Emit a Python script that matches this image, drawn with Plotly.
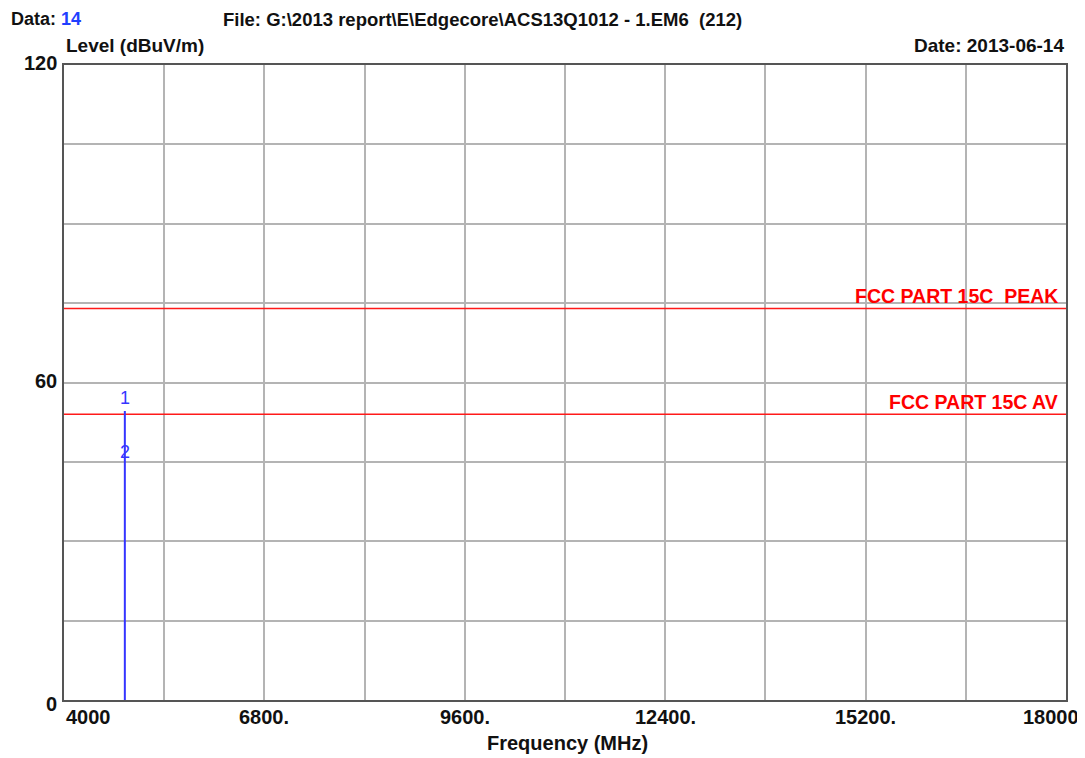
import plotly.graph_objects as go

# Data
freq_mhz = [4850, 4850]
level_dbuv = [0, 54.6]
marker_ids = ["1", "2"]
marker_freq = [4850, 4850]
marker_level = [54.6, 45.5]
limit_names = ["FCC PART 15C  PEAK", "FCC PART 15C AV"]
limit_values = [74, 54]
x_tick_vals = [4000, 6800, 9600, 12400, 15200, 18000]
x_tick_text = ["4000", "6800.", "9600.", "12400.", "15200.", "18000"]
y_tick_vals = [0, 60, 120]
y_tick_text = ["0", "60", "120"]

FONT = "Liberation Sans, Arial, sans-serif"
BLUE = "#3535ff"

fig = go.Figure()

for name, val in zip(limit_names, limit_values):
    fig.add_trace(go.Scatter(x=[4000, 18000], y=[val, val], mode="lines",
                             line=dict(color="#ff1a1a", width=1.5), hoverinfo="skip"))
    fig.add_annotation(x=18000, y=val, text="<b>%s</b>" % name, showarrow=False,
                       xanchor="right", yanchor="bottom", xshift=-6, yshift=-1,
                       font=dict(family=FONT, size=19.5, color="#ff0000"))

fig.add_trace(go.Scatter(x=freq_mhz, y=level_dbuv, mode="lines",
                         line=dict(color=BLUE, width=2), hoverinfo="skip"))

marker_shift = [13, 7]
for mid, mf, ml, sh in zip(marker_ids, marker_freq, marker_level, marker_shift):
    fig.add_annotation(x=mf, y=ml, text=mid, showarrow=False,
                       yanchor="middle", yshift=sh,
                       font=dict(family=FONT, size=18, color=BLUE))

# x tick labels
for v, t in zip(x_tick_vals, x_tick_text):
    anchor = "left" if v == 4000 else ("right" if v == 18000 else "center")
    xs = 15 if v == 18000 else 0
    fig.add_annotation(x=v, y=0, text="<b>%s</b>" % t, showarrow=False, xanchor=anchor,
                       yanchor="middle", yshift=-17, xshift=xs,
                       font=dict(family=FONT, size=20, color="#111111"))
# y tick labels
for v, t in zip(y_tick_vals, y_tick_text):
    ys = -4 if v == 0 else 2
    fig.add_annotation(x=4000, y=v, text="<b>%s</b>" % t, showarrow=False, xanchor="right",
                       yanchor="middle", xshift=-5, yshift=ys,
                       font=dict(family=FONT, size=20, color="#111111"))

# Header texts
fig.add_annotation(xref="paper", yref="paper", x=-0.054, y=1.0898, xanchor="left", yanchor="top",
                   borderpad=0, text="<b>Data: <span style='color:#1f3fff'>14</span></b>", showarrow=False,
                   font=dict(family=FONT, size=18, color="#111111"))
fig.add_annotation(xref="paper", yref="paper", x=0.1577, y=1.0898, xanchor="left", yanchor="top",
                   borderpad=0, text="<b>File: G:\\2013 report\\E\\Edgecore\\ACS13Q1012 - 1.EM6  (212)</b>",
                   showarrow=False, font=dict(family=FONT, size=18.5, color="#111111"))
fig.add_annotation(xref="paper", yref="paper", x=0.0, y=1.030, xanchor="left", yanchor="middle",
                   text="<b>Level (dBuV/m)</b>", showarrow=False,
                   font=dict(family=FONT, size=19, color="#111111"))
fig.add_annotation(xref="paper", yref="paper", x=1.0, y=1.030, xanchor="right", yanchor="middle",
                   text="<b>Date: 2013-06-14</b>", showarrow=False,
                   font=dict(family=FONT, size=19, color="#111111"))
fig.add_annotation(xref="paper", yref="paper", x=0.502, y=-0.0677, xanchor="center", yanchor="middle",
                   text="<b>Frequency (MHz)</b>", showarrow=False,
                   font=dict(family=FONT, size=20, color="#111111"))

fig.update_layout(
    width=1077, height=750,
    margin=dict(l=56, r=19, t=57, b=58),
    paper_bgcolor="white", plot_bgcolor="white",
    showlegend=False,
    xaxis=dict(range=[4000, 18000], tickmode="linear", tick0=4000, dtick=1400,
               showticklabels=False, showgrid=True, gridcolor="#b4b4b4", gridwidth=1.5,
               zeroline=False, showline=True, linecolor="#555555", linewidth=2, mirror=True,
               ticks=""),
    yaxis=dict(range=[0, 120], tickmode="linear", tick0=0, dtick=15,
               showticklabels=False, showgrid=True, gridcolor="#b4b4b4", gridwidth=1.5,
               zeroline=False, showline=True, linecolor="#555555", linewidth=2, mirror=True,
               ticks=""),
)

fig.write_html("out.html")
